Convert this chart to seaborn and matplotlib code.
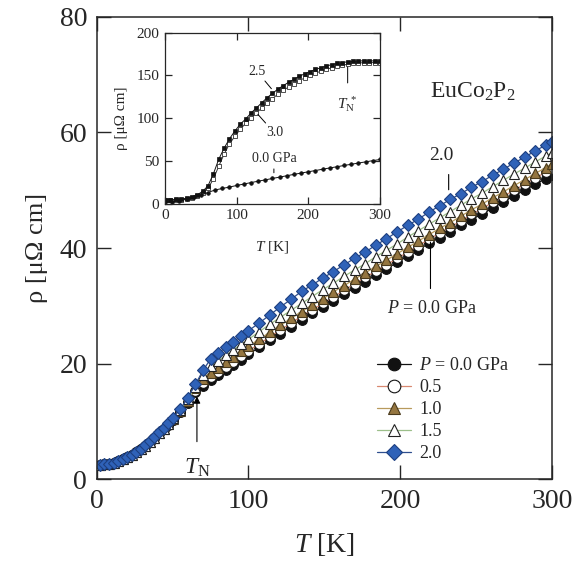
import seaborn as sns
import numpy as np
import matplotlib.pyplot as plt

# Style: paper-like, Times-ish font
sns.set_style('ticks')
plt.rcParams['font.family'] = ['Liberation Serif', 'DejaVu Serif']
plt.rcParams['mathtext.fontset'] = 'custom'
plt.rcParams['mathtext.rm'] = 'Liberation Serif'
plt.rcParams['mathtext.it'] = 'Liberation Serif:italic'

# main panel data, denser points at low T
temp = [2, 5, 8, 11, 14, 17, 20, 23, 26, 29, 32, 35, 38, 41, 44, 47, 50,
        55, 60, 65, 70, 75, 80, 85, 90, 95, 100,
        107, 114, 121, 128, 135, 142, 149, 156, 163, 170, 177, 184, 191, 198, 205,
        212, 219, 226, 233, 240, 247, 254, 261, 268, 275, 282, 289, 296, 300]
rho_00 = [2.5, 2.55, 2.65, 2.85, 3.1, 3.4, 3.75, 4.2, 4.65, 5.2, 5.8, 6.45, 7.15, 7.9,
          8.65, 9.45, 10.3,
          11.6, 13.2, 15.0, 16.2, 17.1, 18.0, 18.9, 19.8, 20.7, 21.6,
          22.8, 24.0, 25.2, 26.4, 27.6, 28.7, 29.8, 30.9, 32.0, 33.1, 34.2, 35.3,
          36.4, 37.5, 38.6, 39.7, 40.8, 41.8, 42.8, 43.9, 44.9, 45.9, 46.9, 48.0, 49.0,
          50.0, 51.0, 52.0, 52.6]
rho_05 = [2.5, 2.55, 2.65, 2.85, 3.1, 3.4, 3.75, 4.2, 4.65, 5.2, 5.8, 6.45, 7.15, 7.9,
          8.65, 9.45, 10.3,
          11.7, 13.4, 15.3, 16.6, 17.6, 18.5, 19.4, 20.3, 21.3, 22.2,
          23.4, 24.6, 25.8, 27.0, 28.2, 29.3, 30.4, 31.5, 32.7, 33.8, 34.9, 36.0,
          37.1, 38.2, 39.3, 40.4, 41.5, 42.6, 43.6, 44.7, 45.8, 46.8, 47.9, 48.9, 50.0,
          51.0, 52.1, 53.1, 53.7]
rho_10 = [2.5, 2.55, 2.65, 2.85, 3.1, 3.4, 3.75, 4.2, 4.65, 5.2, 5.8, 6.45, 7.15, 7.9,
          8.7, 9.5, 10.4,
          11.8, 13.6, 15.7, 17.4, 18.4, 19.3, 20.2, 21.1, 22.1, 23.0,
          24.2, 25.4, 26.6, 27.8, 29.0, 30.1, 31.2, 32.4, 33.5, 34.6, 35.7, 36.8,
          37.9, 39.0, 40.1, 41.2, 42.3, 43.4, 44.4, 45.5, 46.6, 47.6, 48.7, 49.7, 50.8,
          51.8, 52.9, 53.9, 54.6]
rho_15 = [2.5, 2.55, 2.65, 2.85, 3.1, 3.4, 3.75, 4.2, 4.65, 5.2, 5.8, 6.5, 7.2, 7.95,
          8.75, 9.55, 10.5,
          11.9, 13.8, 16.0, 18.1, 19.5, 20.5, 21.4, 22.4, 23.3, 24.2,
          25.5, 26.8, 28.0, 29.2, 30.4, 31.6, 32.8, 33.9, 35.1, 36.2, 37.3, 38.5,
          39.6, 40.7, 41.9, 43.0, 44.1, 45.2, 46.3, 47.4, 48.5, 49.5, 50.6, 51.7, 52.8,
          53.8, 54.9, 55.9, 56.5]
rho_20 = [2.5, 2.55, 2.65, 2.85, 3.1, 3.4, 3.8, 4.25, 4.7, 5.25, 5.9, 6.6, 7.3, 8.1,
          8.9, 9.7, 10.6,
          12.1, 14.1, 16.4, 18.8, 20.8, 21.8, 22.8, 23.8, 24.7, 25.7,
          27.0, 28.4, 29.8, 31.1, 32.5, 33.6, 34.8, 35.9, 37.1, 38.2, 39.3, 40.5,
          41.6, 42.8, 43.9, 45.0, 46.2, 47.3, 48.4, 49.4, 50.5, 51.5, 52.6, 53.6, 54.7,
          55.7, 56.8, 57.8, 58.4]
labels = [r'$P$ = 0.0 GPa', '0.5', '1.0', '1.5', '2.0']

# inset data
temp_in = [0, 7.5, 15, 22.5, 30, 37.5, 45, 52.5, 60, 67.5, 75, 82.5, 90, 97.5, 105,
           112.5, 120, 127.5, 135, 142.5, 150, 157.5, 165, 172.5, 180, 187.5, 195,
           202.5, 210, 217.5, 225, 232.5, 240, 247.5, 255, 262.5, 270, 277.5, 285,
           292.5, 300]
rho_in_25 = [5, 5, 5.2, 5.6, 6.5, 8, 10.5, 14.5, 21, 35, 52, 65, 76, 85, 93, 99, 106,
             112, 118, 124, 129, 134, 138, 142, 145.5, 149, 152, 154.5, 157, 159, 161,
             162.5, 164, 165, 166, 166.5, 167, 167, 167, 167, 167]
rho_in_30 = [4, 4, 4.2, 4.6, 5.5, 7, 9.5, 13, 18, 29, 44, 58, 70, 79, 87, 94, 100,
             106, 112, 118, 123, 128, 132.5, 136.5, 140.5, 144, 147, 150, 152.5, 155,
             157, 159, 160.5, 162, 163, 164, 164.5, 165, 165, 165, 165]
temp_in0 = [0, 10, 20, 30, 40, 50, 60, 70, 80, 90, 100, 110, 120, 130, 140, 150, 160,
            170, 180, 190, 200, 210, 220, 230, 240, 250, 260, 270, 280, 290, 300]
rho_in_00 = [2, 2.3, 3.5, 5.3, 7.6, 10.2, 13.2, 16.2, 17.9, 19.6, 21.4, 23.1, 24.8,
             26.4, 28.0, 29.6, 31.2, 32.8, 34.4, 35.9, 37.4, 38.9, 40.4, 41.9, 43.3,
             44.8, 46.2, 47.6, 49.0, 50.4, 51.8]

fig = plt.figure(figsize=(5.73, 5.63), dpi=100)
ax = fig.add_axes([0.169, 0.149, 0.794, 0.821])

# marker, face, edge, line colour per series
styles = [('o', '#111111', '#111111', '#111111'),
          ('o', 'white', '#111111', '#d98870'),
          ('^', '#957640', '#4a3a1c', '#b89a5c'),
          ('^', 'white', '#222222', '#9cbf8a'),
          ('D', '#2f62b8', '#1d3f80', '#2f4f8f')]
series = [rho_00, rho_05, rho_10, rho_15, rho_20]
for rho, lab, (m, fc, ec, lc) in zip(series, labels, styles):
    sns.lineplot(x=temp, y=rho, ax=ax, color=lc, lw=0.9, marker=m,
                 markersize=7 if m != 'D' else 6.3, markerfacecolor=fc,
                 markeredgecolor=ec, markeredgewidth=0.8, label=lab)

ax.set_xlim(0, 300)
ax.set_ylim(0, 80)
ax.set_xticks([0, 100, 200, 300])
ax.set_yticks([0, 20, 40, 60, 80])
ax.tick_params(direction='in', length=10, width=1, top=True, right=True,
               labelsize=20, pad=7)
for s in ax.spines.values():
    s.set_linewidth(1.1)
ax.set_xlabel(r'$T$ [K]', fontsize=20, labelpad=12)
ax.set_ylabel('ρ [μΩ cm]', fontsize=19, labelpad=8)

ax.legend(loc='upper left', bbox_to_anchor=(0.6, 0.28), frameon=False,
          fontsize=13, handlelength=1.9, handletextpad=0.45, labelspacing=0.28,
          borderaxespad=0, markerscale=1.3)

# annotations
ax.annotate('', xy=(66, 14.8), xytext=(66, 6),
            arrowprops=dict(arrowstyle='-|>', color='k', lw=0.8,
                            mutation_scale=10))
ax.text(66, 2.0, r'$T_{\rm N}$', fontsize=17, ha='center', va='center')
ax.annotate('', xy=(220, 41.5), xytext=(220, 32.5),
            arrowprops=dict(arrowstyle='-', color='k', lw=0.8))
ax.text(221, 29.6, r'$P$ = 0.0 GPa', fontsize=13, ha='center', va='center')
ax.annotate('', xy=(232, 49.6), xytext=(232, 53.2),
            arrowprops=dict(arrowstyle='-', color='k', lw=0.8))
ax.text(227, 56.0, '2.0', fontsize=14, ha='center', va='center')
ax.text(248, 67.0, r'EuCo$_2$P$_2$', fontsize=17, ha='center', va='center')

# inset
axin = fig.add_axes([0.288, 0.638, 0.375, 0.304])
sns.lineplot(x=temp_in, y=rho_in_30, ax=axin, color='#333333', lw=0.7, marker='s',
             markersize=3.2, markerfacecolor='white', markeredgecolor='#333333',
             markeredgewidth=0.6)
sns.lineplot(x=temp_in, y=rho_in_25, ax=axin, color='#111111', lw=0.7, marker='s',
             markersize=2.6, markerfacecolor='#111111', markeredgecolor='#111111',
             markeredgewidth=0.5)
sns.lineplot(x=temp_in0, y=rho_in_00, ax=axin, color='#111111', lw=0.7, marker='o',
             markersize=2.6, markerfacecolor='#111111', markeredgecolor='#111111',
             markeredgewidth=0.5)
axin.set_xlim(0, 300)
axin.set_ylim(0, 200)
axin.set_xticks([0, 100, 200, 300])
axin.set_yticks([0, 50, 100, 150, 200])
axin.tick_params(direction='in', length=5, width=0.9, top=True, right=True,
                 labelsize=11, pad=4)
for s in axin.spines.values():
    s.set_linewidth(0.9)
axin.set_xlabel(r'$T$ [K]', fontsize=11, labelpad=12)
axin.set_ylabel('ρ [μΩ cm]', fontsize=11, labelpad=6)

axin.annotate('', xy=(151, 132), xytext=(137, 146),
              arrowprops=dict(arrowstyle='-', color='k', lw=0.7))
axin.text(128, 155, '2.5', fontsize=10, ha='center', va='center')
axin.annotate('', xy=(127, 107), xytext=(143, 92),
              arrowprops=dict(arrowstyle='-', color='k', lw=0.7))
axin.text(153, 83, '3.0', fontsize=10, ha='center', va='center')
axin.annotate('', xy=(152, 33), xytext=(152, 44),
              arrowprops=dict(arrowstyle='-', color='k', lw=0.7))
axin.text(153, 53, '0.0 GPa', fontsize=10, ha='center', va='center')
axin.annotate('', xy=(255, 163), xytext=(255, 138),
              arrowprops=dict(arrowstyle='-', color='k', lw=0.7))
axin.text(254, 117, r'$T_{\rm N}^{\ *}$', fontsize=11, ha='center', va='center')

fig.savefig('out.png', dpi=100)
